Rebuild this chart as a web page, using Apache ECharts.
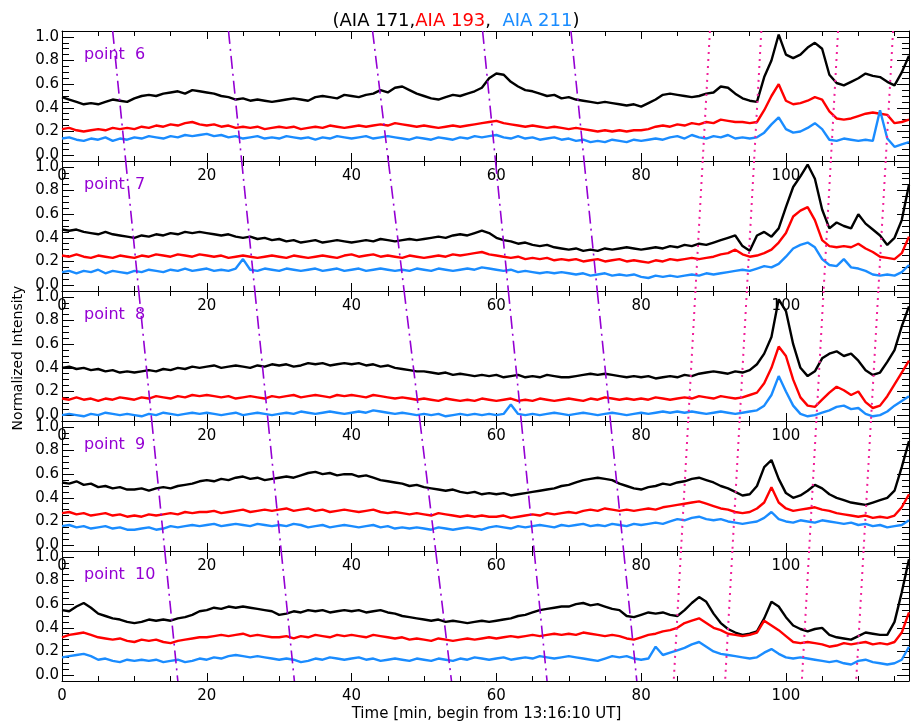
<!DOCTYPE html>
<html><head><meta charset="utf-8">
<script src="https://cdn.jsdelivr.net/npm/echarts@6/dist/echarts.min.js"></script>
<style>html,body{margin:0;padding:0;background:#fff}#c{width:912px;height:728px}</style>
</head><body><div id="c"></div>
<script>
// ---- data (minutes since 13:16:10 UT, normalized intensity) ----
const timeMin = Array.from({length:118}, (_, i) => i);

const panelNames = ['point  6', 'point  7', 'point  8', 'point  9', 'point  10'];
const titleParts = ['(AIA 171,', 'AIA 193', ',  ', 'AIA 211', ')'];
const xAxisTitle = 'Time [min, begin from 13:16:10 UT]';
const yAxisTitle = 'Normalized Intensity';

const p6_171 = [0.49,0.47,0.45,0.43,0.44,0.43,0.45,0.47,0.46,0.45,
0.48,0.50,0.51,0.50,0.52,0.53,0.54,0.52,0.55,0.54,
0.53,0.52,0.50,0.49,0.47,0.48,0.46,0.47,0.46,0.45,
0.46,0.47,0.48,0.47,0.46,0.49,0.50,0.49,0.48,0.51,
0.50,0.49,0.51,0.52,0.55,0.53,0.57,0.58,0.55,0.52,
0.50,0.48,0.47,0.49,0.51,0.50,0.52,0.54,0.57,0.65,
0.69,0.68,0.62,0.58,0.55,0.54,0.52,0.50,0.51,0.48,
0.49,0.47,0.46,0.45,0.44,0.45,0.44,0.43,0.42,0.43,
0.41,0.44,0.47,0.51,0.52,0.51,0.50,0.49,0.50,0.52,
0.53,0.58,0.57,0.52,0.48,0.46,0.45,0.66,0.80,1.02,
0.85,0.82,0.85,0.91,0.95,0.90,0.68,0.61,0.59,0.62,
0.65,0.69,0.67,0.66,0.62,0.59,0.70,0.84];
const p6_193 = [0.22,0.23,0.21,0.20,0.21,0.22,0.21,0.23,0.22,0.23,
0.22,0.24,0.23,0.25,0.24,0.26,0.25,0.27,0.28,0.26,
0.25,0.26,0.24,0.25,0.23,0.24,0.23,0.24,0.22,0.23,
0.24,0.23,0.24,0.22,0.23,0.24,0.23,0.25,0.24,0.23,
0.24,0.25,0.24,0.25,0.26,0.25,0.27,0.26,0.25,0.24,
0.25,0.24,0.23,0.24,0.25,0.24,0.25,0.26,0.27,0.28,
0.29,0.27,0.26,0.25,0.24,0.25,0.24,0.23,0.24,0.23,
0.22,0.23,0.22,0.21,0.20,0.21,0.20,0.21,0.20,0.21,
0.21,0.22,0.24,0.25,0.24,0.26,0.25,0.27,0.26,0.28,
0.27,0.30,0.29,0.28,0.28,0.27,0.28,0.38,0.50,0.60,
0.46,0.43,0.44,0.46,0.49,0.47,0.37,0.31,0.30,0.31,
0.33,0.35,0.36,0.35,0.34,0.27,0.28,0.30];
const p6_211 = [0.14,0.15,0.13,0.12,0.14,0.13,0.15,0.12,0.14,0.13,
0.15,0.14,0.16,0.15,0.14,0.16,0.15,0.17,0.16,0.17,
0.18,0.16,0.17,0.15,0.16,0.14,0.15,0.16,0.14,0.15,
0.14,0.16,0.15,0.14,0.15,0.13,0.15,0.14,0.16,0.15,
0.14,0.15,0.16,0.14,0.15,0.16,0.15,0.14,0.13,0.15,
0.14,0.13,0.15,0.14,0.13,0.15,0.14,0.16,0.15,0.16,
0.17,0.15,0.14,0.16,0.14,0.15,0.13,0.14,0.15,0.13,
0.14,0.12,0.13,0.11,0.12,0.11,0.13,0.12,0.11,0.13,
0.12,0.13,0.14,0.13,0.15,0.16,0.14,0.17,0.15,0.14,
0.16,0.15,0.17,0.14,0.15,0.14,0.15,0.19,0.26,0.32,
0.22,0.19,0.20,0.23,0.27,0.22,0.13,0.12,0.14,0.13,
0.12,0.13,0.12,0.38,0.14,0.07,0.09,0.11];

const p7_171 = [0.47,0.46,0.47,0.45,0.44,0.43,0.45,0.43,0.42,0.41,
0.40,0.42,0.41,0.43,0.42,0.44,0.43,0.45,0.44,0.45,
0.44,0.43,0.42,0.43,0.41,0.40,0.41,0.39,0.40,0.38,
0.39,0.37,0.38,0.36,0.37,0.38,0.36,0.37,0.38,0.37,
0.36,0.37,0.38,0.37,0.39,0.38,0.37,0.38,0.39,0.38,
0.39,0.40,0.41,0.40,0.42,0.43,0.42,0.44,0.46,0.44,
0.40,0.38,0.37,0.35,0.36,0.34,0.33,0.34,0.32,0.31,
0.30,0.31,0.29,0.30,0.29,0.31,0.30,0.31,0.32,0.31,
0.30,0.31,0.32,0.31,0.33,0.32,0.34,0.33,0.35,0.34,
0.36,0.38,0.40,0.42,0.33,0.29,0.42,0.45,0.41,0.48,
0.66,0.83,0.92,1.02,0.90,0.64,0.48,0.53,0.50,0.48,
0.60,0.52,0.47,0.42,0.34,0.40,0.55,0.85];
const p7_193 = [0.25,0.24,0.26,0.24,0.23,0.25,0.24,0.23,0.25,0.24,
0.23,0.25,0.24,0.26,0.25,0.24,0.26,0.25,0.24,0.26,
0.25,0.24,0.25,0.23,0.24,0.25,0.24,0.23,0.24,0.25,
0.24,0.23,0.25,0.24,0.23,0.24,0.25,0.24,0.23,0.25,
0.26,0.24,0.25,0.26,0.24,0.25,0.24,0.23,0.25,0.24,
0.23,0.24,0.25,0.24,0.26,0.25,0.26,0.27,0.28,0.26,
0.25,0.24,0.23,0.24,0.22,0.23,0.22,0.23,0.21,0.22,
0.21,0.22,0.20,0.21,0.22,0.20,0.21,0.22,0.20,0.21,
0.20,0.19,0.21,0.20,0.22,0.21,0.22,0.23,0.22,0.23,
0.24,0.26,0.27,0.30,0.26,0.24,0.25,0.27,0.30,0.36,
0.44,0.58,0.63,0.66,0.55,0.38,0.33,0.32,0.33,0.32,
0.35,0.31,0.28,0.24,0.23,0.22,0.27,0.41];
const p7_211 = [0.11,0.12,0.10,0.12,0.11,0.13,0.10,0.12,0.11,0.10,
0.12,0.11,0.13,0.12,0.11,0.13,0.12,0.14,0.12,0.13,
0.14,0.12,0.13,0.12,0.14,0.22,0.13,0.12,0.14,0.13,
0.12,0.14,0.13,0.12,0.13,0.14,0.12,0.13,0.14,0.12,
0.13,0.14,0.12,0.13,0.14,0.13,0.12,0.13,0.12,0.14,
0.13,0.12,0.14,0.13,0.12,0.13,0.14,0.13,0.15,0.14,
0.13,0.12,0.13,0.11,0.12,0.11,0.10,0.11,0.10,0.11,
0.10,0.09,0.10,0.08,0.09,0.10,0.08,0.09,0.08,0.09,
0.07,0.06,0.08,0.07,0.08,0.07,0.08,0.09,0.08,0.10,
0.09,0.10,0.11,0.12,0.13,0.12,0.14,0.16,0.15,0.18,
0.24,0.31,0.34,0.36,0.32,0.22,0.17,0.16,0.22,0.15,
0.14,0.12,0.09,0.08,0.09,0.08,0.11,0.17];

const p8_171 = [0.40,0.41,0.39,0.40,0.38,0.39,0.37,0.38,0.36,0.37,
0.36,0.37,0.38,0.37,0.39,0.38,0.40,0.39,0.41,0.40,
0.41,0.42,0.40,0.41,0.42,0.41,0.40,0.42,0.41,0.43,
0.42,0.43,0.41,0.42,0.44,0.43,0.44,0.42,0.43,0.44,
0.43,0.44,0.42,0.43,0.41,0.42,0.40,0.39,0.38,0.37,
0.37,0.36,0.35,0.36,0.34,0.35,0.34,0.33,0.34,0.33,
0.34,0.32,0.33,0.34,0.32,0.33,0.32,0.34,0.33,0.32,
0.32,0.33,0.34,0.35,0.34,0.35,0.34,0.33,0.32,0.33,
0.32,0.33,0.31,0.32,0.33,0.32,0.34,0.33,0.35,0.36,
0.37,0.36,0.35,0.37,0.36,0.38,0.43,0.52,0.66,0.98,
0.88,0.60,0.40,0.33,0.37,0.48,0.52,0.54,0.50,0.52,
0.46,0.38,0.34,0.36,0.45,0.55,0.75,0.92];
const p8_193 = [0.14,0.13,0.15,0.13,0.14,0.12,0.14,0.13,0.15,0.14,
0.13,0.15,0.14,0.16,0.15,0.14,0.16,0.15,0.17,0.16,
0.17,0.16,0.15,0.16,0.14,0.15,0.16,0.15,0.14,0.16,
0.15,0.16,0.17,0.15,0.16,0.17,0.16,0.15,0.17,0.16,
0.17,0.16,0.15,0.17,0.16,0.15,0.14,0.15,0.14,0.13,
0.14,0.13,0.12,0.14,0.13,0.12,0.13,0.12,0.14,0.13,
0.12,0.13,0.14,0.12,0.13,0.12,0.14,0.13,0.12,0.13,
0.14,0.13,0.12,0.14,0.13,0.15,0.14,0.13,0.14,0.13,
0.14,0.13,0.15,0.14,0.13,0.14,0.15,0.14,0.16,0.15,
0.14,0.16,0.15,0.14,0.15,0.17,0.19,0.27,0.40,0.58,
0.50,0.30,0.15,0.08,0.07,0.13,0.19,0.24,0.21,0.17,
0.20,0.11,0.06,0.08,0.16,0.26,0.36,0.46];
const p8_211 = [0.00,0.01,0.00,-0.01,0.01,0.00,0.02,0.01,0.00,0.01,
0.00,-0.01,0.01,0.00,0.02,0.01,0.00,0.01,0.02,0.01,
0.02,0.01,0.00,0.01,0.02,0.00,0.01,0.02,0.01,0.00,
0.01,0.02,0.01,0.03,0.02,0.01,0.02,0.03,0.02,0.01,
0.02,0.03,0.02,0.04,0.03,0.02,0.01,0.02,0.01,0.00,
0.01,0.00,0.01,-0.01,0.00,0.01,0.00,0.01,0.00,0.01,
0.00,0.01,0.09,0.01,0.00,0.01,0.00,0.01,0.02,0.01,
0.00,0.01,0.02,0.01,0.00,0.01,0.02,0.01,0.00,0.01,
0.02,0.01,0.02,0.03,0.02,0.03,0.02,0.03,0.02,0.01,
0.02,0.03,0.02,0.01,0.02,0.03,0.04,0.08,0.17,0.33,
0.20,0.08,0.01,-0.01,0.00,0.02,0.04,0.07,0.08,0.05,
0.06,0.01,-0.01,0.00,0.03,0.08,0.12,0.16];

const p9_171 = [0.53,0.52,0.54,0.51,0.52,0.49,0.50,0.48,0.49,0.47,
0.47,0.48,0.46,0.48,0.49,0.48,0.50,0.51,0.52,0.54,
0.55,0.54,0.56,0.55,0.57,0.58,0.56,0.57,0.55,0.56,
0.57,0.58,0.57,0.59,0.61,0.62,0.60,0.61,0.59,0.60,
0.60,0.58,0.59,0.57,0.55,0.54,0.53,0.52,0.50,0.51,
0.49,0.48,0.47,0.46,0.47,0.45,0.44,0.45,0.43,0.44,
0.43,0.44,0.42,0.43,0.44,0.45,0.46,0.47,0.48,0.50,
0.51,0.53,0.55,0.56,0.57,0.56,0.55,0.52,0.50,0.48,
0.47,0.49,0.50,0.52,0.51,0.53,0.54,0.56,0.57,0.55,
0.53,0.50,0.48,0.45,0.42,0.43,0.50,0.66,0.72,0.56,
0.44,0.40,0.42,0.46,0.51,0.48,0.43,0.40,0.38,0.36,
0.35,0.34,0.36,0.38,0.40,0.46,0.66,0.88];
const p9_193 = [0.27,0.28,0.26,0.27,0.25,0.26,0.27,0.25,0.26,0.24,
0.25,0.24,0.26,0.25,0.26,0.27,0.26,0.28,0.27,0.28,
0.28,0.29,0.27,0.28,0.29,0.30,0.28,0.29,0.30,0.29,
0.30,0.31,0.29,0.30,0.31,0.29,0.30,0.28,0.29,0.30,
0.29,0.28,0.29,0.30,0.28,0.27,0.28,0.27,0.26,0.27,
0.26,0.25,0.27,0.26,0.25,0.24,0.25,0.24,0.25,0.24,
0.24,0.25,0.23,0.24,0.25,0.26,0.25,0.27,0.26,0.27,
0.28,0.27,0.29,0.30,0.29,0.31,0.30,0.29,0.30,0.29,
0.30,0.31,0.30,0.32,0.33,0.34,0.35,0.36,0.37,0.35,
0.33,0.31,0.30,0.28,0.27,0.28,0.31,0.36,0.49,0.36,
0.31,0.29,0.30,0.31,0.32,0.30,0.29,0.27,0.26,0.25,
0.24,0.25,0.23,0.24,0.23,0.25,0.32,0.43];
const p9_211 = [0.16,0.17,0.15,0.16,0.14,0.15,0.16,0.14,0.15,0.13,
0.13,0.14,0.15,0.13,0.14,0.16,0.15,0.16,0.17,0.16,
0.17,0.18,0.16,0.17,0.18,0.17,0.16,0.18,0.17,0.16,
0.17,0.16,0.18,0.17,0.15,0.16,0.17,0.15,0.16,0.17,
0.16,0.15,0.16,0.17,0.15,0.16,0.14,0.15,0.14,0.15,
0.14,0.13,0.15,0.14,0.13,0.14,0.15,0.14,0.13,0.15,
0.16,0.15,0.14,0.16,0.15,0.16,0.17,0.16,0.15,0.17,
0.16,0.17,0.18,0.16,0.17,0.16,0.18,0.17,0.16,0.18,
0.17,0.18,0.19,0.18,0.20,0.22,0.21,0.23,0.24,0.22,
0.21,0.22,0.20,0.19,0.18,0.19,0.20,0.23,0.28,0.22,
0.20,0.19,0.21,0.20,0.19,0.21,0.20,0.19,0.18,0.19,
0.17,0.18,0.16,0.17,0.15,0.16,0.17,0.21];

const p10_171 = [0.55,0.54,0.58,0.61,0.57,0.52,0.50,0.48,0.47,0.45,
0.44,0.45,0.47,0.46,0.47,0.46,0.48,0.49,0.51,0.54,
0.55,0.57,0.56,0.58,0.57,0.58,0.57,0.56,0.55,0.54,
0.51,0.52,0.54,0.53,0.55,0.54,0.55,0.53,0.54,0.55,
0.54,0.55,0.53,0.54,0.55,0.53,0.52,0.50,0.49,0.48,
0.47,0.46,0.47,0.45,0.46,0.45,0.44,0.45,0.46,0.45,
0.46,0.47,0.48,0.50,0.51,0.53,0.55,0.56,0.57,0.58,
0.58,0.60,0.61,0.59,0.60,0.58,0.56,0.55,0.50,0.49,
0.51,0.53,0.52,0.53,0.51,0.50,0.55,0.61,0.66,0.62,
0.52,0.44,0.39,0.36,0.34,0.35,0.37,0.48,0.62,0.58,
0.49,0.42,0.39,0.37,0.39,0.40,0.34,0.32,0.31,0.30,
0.33,0.36,0.35,0.34,0.34,0.45,0.70,0.98];
const p10_193 = [0.32,0.34,0.35,0.36,0.34,0.32,0.31,0.30,0.31,0.29,
0.28,0.30,0.29,0.30,0.28,0.27,0.29,0.30,0.31,0.32,
0.32,0.33,0.34,0.33,0.34,0.35,0.33,0.34,0.33,0.32,
0.32,0.33,0.31,0.33,0.32,0.34,0.33,0.32,0.34,0.33,
0.34,0.33,0.32,0.34,0.33,0.32,0.31,0.32,0.30,0.31,
0.30,0.29,0.31,0.30,0.29,0.30,0.31,0.30,0.31,0.32,
0.31,0.32,0.33,0.32,0.33,0.34,0.33,0.34,0.35,0.34,
0.35,0.34,0.36,0.35,0.34,0.33,0.34,0.33,0.31,0.30,
0.32,0.34,0.35,0.37,0.38,0.40,0.44,0.46,0.48,0.44,
0.40,0.38,0.35,0.34,0.33,0.34,0.36,0.46,0.42,0.38,
0.33,0.28,0.27,0.28,0.27,0.26,0.24,0.25,0.27,0.26,
0.27,0.28,0.26,0.27,0.26,0.28,0.36,0.53];
const p10_211 = [0.15,0.16,0.17,0.18,0.16,0.13,0.14,0.12,0.11,0.13,
0.12,0.13,0.12,0.13,0.11,0.12,0.13,0.11,0.12,0.14,
0.13,0.15,0.14,0.16,0.17,0.16,0.15,0.16,0.15,0.14,
0.13,0.14,0.13,0.11,0.12,0.14,0.13,0.15,0.14,0.13,
0.14,0.15,0.13,0.14,0.12,0.13,0.14,0.13,0.12,0.14,
0.13,0.12,0.14,0.13,0.12,0.14,0.13,0.15,0.14,0.13,
0.14,0.15,0.13,0.14,0.15,0.14,0.16,0.15,0.14,0.15,
0.16,0.15,0.14,0.13,0.12,0.14,0.16,0.15,0.16,0.14,
0.13,0.14,0.24,0.17,0.19,0.21,0.23,0.26,0.28,0.24,
0.20,0.18,0.17,0.16,0.15,0.14,0.15,0.19,0.22,0.18,
0.15,0.14,0.15,0.14,0.13,0.12,0.11,0.12,0.10,0.09,
0.12,0.13,0.11,0.10,0.09,0.10,0.13,0.24];

// slanted guide lines: time at top of first panel and at bottom of last panel
const dashDotStart = [7.0, 23.0, 42.9, 58.1, 70.3];
const dashDotEnd   = [16.0, 32.1, 53.8, 67.0, 79.4];
const dottedStart  = [89.5, 96.6, 107.2, 114.8];
const dottedEnd    = [84.5, 91.6, 102.2, 109.7];

// ---- build option ----
const panelData = [
  [p6_171, p6_193, p6_211],
  [p7_171, p7_193, p7_211],
  [p8_171, p8_193, p8_211],
  [p9_171, p9_193, p9_211],
  [p10_171, p10_193, p10_211]
];
const lineColors = ['#000000', '#ff0000', '#1a8cff'];
const FONT = 'DejaVu Sans';
const TOP = 31, H = 130, LEFT = 62, W = 849;
const Y_MIN = -0.05, Y_MAX = 1.05, X_MIN = 0, X_MAX = 117;
const nPanels = panelData.length;

const grids = [], xAxes = [], yAxes = [], series = [], titles = [];

const axisLine = {show: true, onZero: false, lineStyle: {color: '#000', width: 1}};
panelData.forEach((group, i) => {
  grids.push({left: LEFT, top: TOP + i * H, width: W, height: H});
  const xBase = {
    gridIndex: i, type: 'value', min: X_MIN, max: X_MAX, interval: 20,
    axisLine: axisLine,
    axisTick: {show: true, inside: true, length: 8, lineStyle: {color: '#000'}},
    minorTick: {show: true, splitNumber: 4, length: 5, lineStyle: {color: '#000'}},
    splitLine: {show: false}, minorSplitLine: {show: false}
  };
  xAxes.push(Object.assign({}, xBase, {position: 'bottom',
    axisLabel: {show: true, color: '#000', fontSize: 15, fontFamily: FONT, margin: 8,
      formatter: v => (v % 20 === 0 ? String(v) : '')}}));
  xAxes.push(Object.assign({}, xBase, {position: 'top', axisLabel: {show: false}}));
  const yBase = {
    gridIndex: i, type: 'value', min: Y_MIN, max: Y_MAX, splitNumber: 5,
    axisLine: axisLine,
    axisTick: {show: true, inside: true, length: 12, lineStyle: {color: '#000'}},
    minorTick: {show: true, splitNumber: 4, length: 7, lineStyle: {color: '#000'}},
    splitLine: {show: false}, minorSplitLine: {show: false}
  };
  yAxes.push(Object.assign({}, yBase, {position: 'left',
    axisLabel: {show: true, color: '#000', fontSize: 15, fontFamily: FONT, margin: 3,
      showMinLabel: true, showMaxLabel: true,
      formatter: v => (Math.abs(v * 5 - Math.round(v * 5)) < 1e-6 ? v.toFixed(1) : '')}}));
  yAxes.push(Object.assign({}, yBase, {position: 'right', axisLabel: {show: false}}));

  group.forEach((arr, k) => {
    series.push({
      type: 'line', xAxisIndex: 2 * i, yAxisIndex: 2 * i,
      data: timeMin.map((t, j) => [t, arr[j]]),
      symbol: 'none', showSymbol: false, silent: true, z: 2,
      lineStyle: {color: lineColors[k], width: 2.4}, color: lineColors[k]
    });
  });

  const addGuide = (s, e, style) => {
    const xTop = s + (e - s) * i / nPanels;
    const xBot = s + (e - s) * (i + 1) / nPanels;
    series.push({
      type: 'line', xAxisIndex: 2 * i, yAxisIndex: 2 * i,
      data: [[xTop, Y_MAX], [xBot, Y_MIN]],
      symbol: 'none', showSymbol: false, silent: true, z: 3,
      lineStyle: style
    });
  };
  dashDotStart.forEach((s, k) => addGuide(s, dashDotEnd[k],
    {color: '#9400d3', width: 1.6, type: [13, 5, 2, 5]}));
  dottedStart.forEach((s, k) => addGuide(s, dottedEnd[k],
    {color: '#f0209a', width: 2, type: [2, 5]}));

  titles.push({
    text: panelNames[i], left: 84, top: TOP + i * H + 16, padding: 0,
    textStyle: {color: '#9400d3', fontSize: 16, fontWeight: 'normal', fontFamily: FONT}
  });
});

titles.push({
  text: '{k|' + titleParts[0] + '}{r|' + titleParts[1] + '}{k|' + titleParts[2] + '}{b|' + titleParts[3] + '}{k|' + titleParts[4] + '}',
  left: 'center', top: 7,
  textStyle: {
    fontSize: 18, fontFamily: FONT, fontWeight: 'normal',
    rich: {
      k: {color: '#000', fontSize: 18, fontFamily: FONT},
      r: {color: '#ff0000', fontSize: 18, fontFamily: FONT},
      b: {color: '#1a8cff', fontSize: 18, fontFamily: FONT}
    }
  }
});

const option = {
  animation: false,
  backgroundColor: '#fff',
  title: titles,
  grid: grids,
  xAxis: xAxes,
  yAxis: yAxes,
  series: series,
  graphic: [
    {type: 'text', x: LEFT + W / 2, y: 714,
      style: {text: xAxisTitle, fill: '#000', font: '15px "DejaVu Sans"', align: 'center', verticalAlign: 'middle'}},
    {type: 'text', x: 18, y: 358, rotation: Math.PI / 2,
      style: {text: yAxisTitle, fill: '#000', font: '14px "DejaVu Sans"', align: 'center', verticalAlign: 'middle'}}
  ]
};

const chart = echarts.init(document.getElementById('c'), null, {renderer: 'canvas'});
chart.setOption(option);
</script>
</body></html>
